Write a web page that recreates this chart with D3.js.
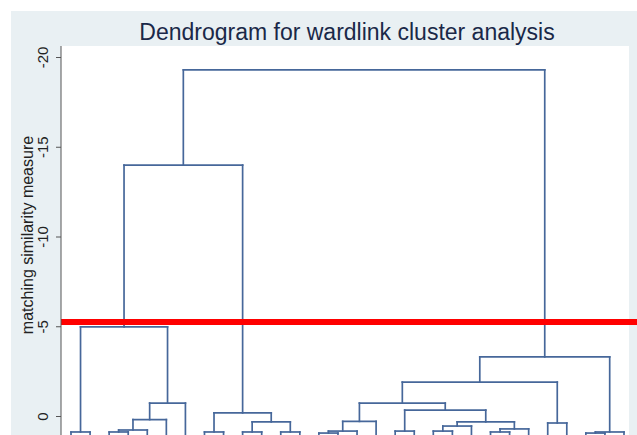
<!DOCTYPE html>
<html>
<head>
<meta charset="utf-8">
<script src="https://cdn.jsdelivr.net/npm/d3@7"></script>
<style>
  body { margin: 0; background: #fff; }
  text { font-family: "Liberation Sans", Arial, sans-serif; }
</style>
</head>
<body>
<div id="chart"></div>
<script>
// Dendrogram data: 30 leaves, merges refer to node ids (leaves 0-29, merges 30+)
const leafIds = d3.range(30);
const leftChild  = [0, 2, 31, 32, 33, 30, 7, 9, 11, 37, 36, 35, 13, 42, 43, 17, 19, 46, 22, 48, 47, 45, 44, 25, 52, 27, 55, 54, 41];
const rightChild = [1, 3, 4, 5, 6, 34, 8, 10, 12, 38, 39, 40, 14, 15, 16, 18, 20, 21, 23, 24, 49, 50, 51, 26, 53, 28, 29, 56, 57];
const mergeHeight = [0.89, 0.89, 0.78, 0.2, -0.72, -4.96, 0.89, 0.89, 0.89, 0.33, -0.17, -13.98,
                     0.95, 0.84, 0.3, 0.84, 0.84, 0.56, 0.89, 0.72, 0.33, -0.33, -0.72, 0.39, -1.89,
                     0.95, 0.89, -3.29, -19.28];
const yTicks = [-20, -15, -10, -5, 0];
const cutValue = -5.24;
const leafBase = 1.6;

const width = 637, height = 435;
const plot = { left: 61, right: 629, top: 46 };

const svg = d3.select("#chart").append("svg")
    .attr("width", width)
    .attr("height", height);

// background
svg.append("rect").attr("x", 11).attr("y", 11).attr("width", width - 11).attr("height", height - 11)
    .attr("fill", "#e9f0f3");
svg.append("rect").attr("x", plot.left).attr("y", plot.top)
    .attr("width", plot.right - plot.left).attr("height", height - plot.top)
    .attr("fill", "#fff");

const xScale = d3.scaleLinear().domain([0, leafIds.length - 1]).range([71, 624]);
const yScale = d3.scaleLinear().domain([-20, 0]).range([57, 416]);

// node positions
const nodeX = leafIds.map(d => xScale(d));
const nodeH = leafIds.map(() => leafBase);
leftChild.forEach((l, i) => {
    nodeX.push((nodeX[l] + nodeX[rightChild[i]]) / 2);
    nodeH.push(mergeHeight[i]);
});

const segs = [];
leftChild.forEach((l, i) => {
    const r = rightChild[i], h = mergeHeight[i];
    segs.push([nodeX[l], nodeH[l], nodeX[l], h]);
    segs.push([nodeX[r], nodeH[r], nodeX[r], h]);
    segs.push([nodeX[l], h, nodeX[r], h]);
});

svg.append("g").selectAll("line")
    .data(segs)
    .enter()
    .append("line")
    .attr("x1", d => d[0]).attr("y1", d => yScale(d[1]))
    .attr("x2", d => d[2]).attr("y2", d => yScale(d[3]))
    .attr("stroke", "#46679a")
    .attr("stroke-width", 1.7)
    .attr("stroke-linecap", "square");

// cut line
svg.append("line")
    .attr("x1", plot.left).attr("x2", width)
    .attr("y1", yScale(cutValue)).attr("y2", yScale(cutValue))
    .attr("stroke", "#ff0000")
    .attr("stroke-width", 6);

// y axis
const yAxis = svg.append("g")
    .attr("transform", `translate(${plot.left},0)`)
    .call(d3.axisLeft(yScale).tickValues(yTicks).tickSize(5).tickFormat(d => String(d)));
yAxis.select(".domain").attr("d", `M0,${plot.top}V${height}`).attr("stroke", "#555");
yAxis.selectAll(".tick line").attr("stroke", "#555");
yAxis.selectAll(".tick text")
    .attr("x", null).attr("dy", null)
    .attr("transform", "translate(-13,0) rotate(-90)")
    .attr("text-anchor", "middle")
    .attr("font-size", 15)
    .attr("fill", "#222");

// axis title
svg.append("text")
    .attr("transform", "translate(33,235) rotate(-90)")
    .attr("text-anchor", "middle")
    .attr("font-size", 16)
    .attr("fill", "#222")
    .text("matching similarity measure");

// title
svg.append("text")
    .attr("x", 347).attr("y", 40)
    .attr("text-anchor", "middle")
    .attr("font-size", 23)
    .attr("fill", "#1a2848")
    .text("Dendrogram for wardlink cluster analysis");
</script>
</body>
</html>
